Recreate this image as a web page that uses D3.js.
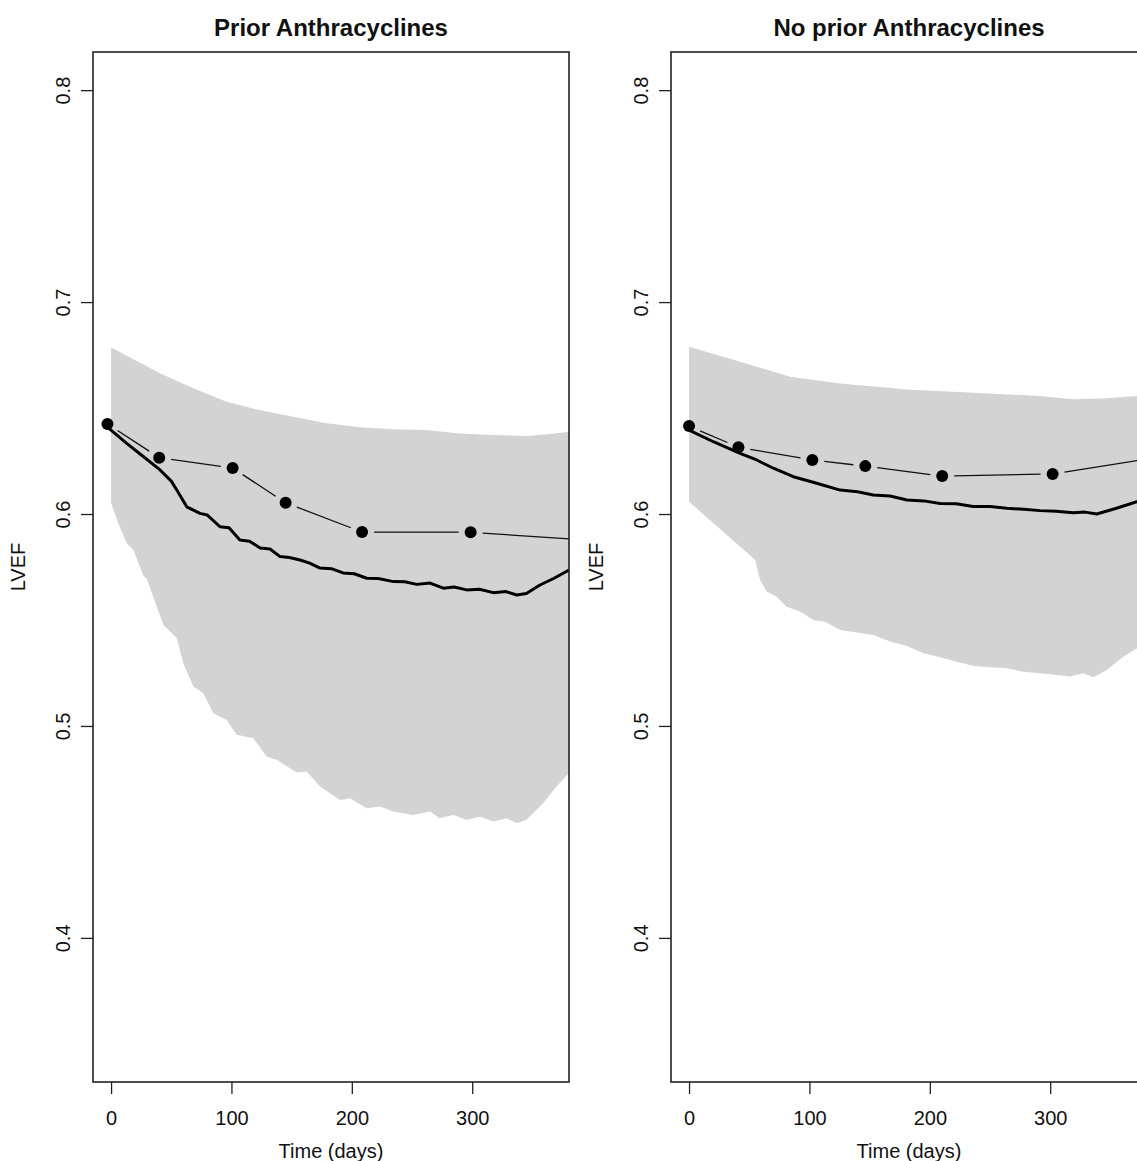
<!DOCTYPE html>
<html>
<head>
<meta charset="utf-8">
<script src="https://cdn.jsdelivr.net/npm/d3@7"></script>
<style>
  body { margin: 0; background: #fff; }
  text { font-family: "Liberation Sans", Arial, Helvetica, sans-serif; fill: #111; }
</style>
</head>
<body>
<svg id="chart" width="1137" height="1161"></svg>
<script>
// ---------- data ----------
const xTicks = [0, 100, 200, 300];
const yTicks = [0.4, 0.5, 0.6, 0.7, 0.8];
const panelTitles = ["Prior Anthracyclines", "No prior Anthracyclines"];

// Prior anthracyclines
const priorObsDay  = [-3, 40, 101, 145, 208.5, 298.7, 420];
const priorObsLVEF = [0.6425, 0.6266, 0.6217, 0.6053, 0.5915, 0.5914, 0.5867];
const priorMeanDay  = [-3, 13, 27, 40.7, 50, 54.6, 62.9, 73.9, 80, 90.5, 98, 107, 115, 123.8, 132, 140.4, 148, 157, 165, 173.6, 183, 192.7, 202, 212.4, 222, 234.5, 244, 253.9, 265, 276, 285, 295.4, 306, 317.5, 328, 337, 345, 356.3, 368, 380.4];
const priorMeanLVEF = [0.641, 0.6333, 0.627, 0.6208, 0.6155, 0.6113, 0.6034, 0.6003, 0.5995, 0.594, 0.5935, 0.5877, 0.5872, 0.584, 0.5835, 0.5799, 0.5795, 0.5783, 0.5768, 0.5745, 0.5742, 0.5722, 0.5718, 0.5697, 0.5696, 0.5681, 0.568, 0.5668, 0.5674, 0.565, 0.5656, 0.5642, 0.5645, 0.5629, 0.5634, 0.5618, 0.5625, 0.5665, 0.5697, 0.5736];
const priorUpDay  = [0, 40.7, 68.4, 96, 123.8, 151.4, 179, 206.8, 234.5, 262, 290, 317.5, 345, 364.6, 380.4];
const priorUpLVEF = [0.6786, 0.6664, 0.6593, 0.653, 0.649, 0.6459, 0.6428, 0.6409, 0.640, 0.6396, 0.638, 0.6373, 0.6368, 0.6377, 0.6388];
const priorLoDay  = [0, 6, 13, 18.5, 26.8, 30, 38, 43.5, 54.6, 60, 68.4, 76.7, 85, 96, 104.4, 118.2, 129.3, 137.6, 154.2, 162.5, 173.6, 190.2, 198.5, 212.4, 223.4, 234.5, 251, 265, 273, 284.3, 295.4, 306.5, 317.5, 328.7, 337, 345, 359, 370, 380.4];
const priorLoLVEF = [0.6052, 0.5956, 0.5862, 0.583, 0.571, 0.569, 0.5563, 0.5476, 0.5414, 0.5296, 0.5186, 0.5154, 0.506, 0.5028, 0.4958, 0.4942, 0.4855, 0.484, 0.478, 0.4785, 0.4714, 0.4651, 0.4659, 0.4612, 0.462, 0.4596, 0.458, 0.4596, 0.4565, 0.458, 0.4557, 0.4572, 0.4549, 0.4565, 0.4541, 0.4557, 0.4635, 0.4714, 0.4777];

// No prior anthracyclines
const noPriorObsDay  = [0, 41, 102.4, 146.4, 210.3, 302, 400];
const noPriorObsLVEF = [0.6415, 0.6315, 0.6255, 0.6226, 0.6179, 0.6189, 0.6277];
const noPriorMeanDay  = [0, 20.2, 42.4, 56.2, 70, 86.6, 106, 125.5, 140, 153, 167, 181, 195, 208.6, 222, 236, 250, 263.9, 278, 291.5, 305, 319, 329, 338.6, 355, 372, 380.4];
const noPriorMeanLVEF = [0.6396, 0.6341, 0.6286, 0.6255, 0.6216, 0.6176, 0.6145, 0.6113, 0.6105, 0.609, 0.6085, 0.6066, 0.6062, 0.605, 0.6048, 0.6035, 0.6036, 0.6027, 0.6022, 0.6016, 0.6013, 0.6006, 0.6009, 0.6, 0.6027, 0.6058, 0.607];
const noPriorUpDay  = [0, 42.4, 83.9, 125.5, 181, 236.4, 291.5, 319, 346.9, 372, 380.4];
const noPriorUpLVEF = [0.6789, 0.6718, 0.6648, 0.6616, 0.6588, 0.6572, 0.6557, 0.6541, 0.6546, 0.6557, 0.656];
const noPriorLoDay  = [0, 55, 59, 64.5, 72.8, 81, 92.2, 103.3, 113, 125.5, 153, 167, 181, 194.6, 208.6, 222.5, 236.4, 250, 264, 277.7, 291.5, 305.4, 316.4, 327.5, 335.8, 347, 360.7, 372, 380.4];
const noPriorLoLVEF = [0.6058, 0.5783, 0.5689, 0.5634, 0.561, 0.5563, 0.554, 0.55, 0.5492, 0.5453, 0.5429, 0.5398, 0.5377, 0.5343, 0.5324, 0.5303, 0.5283, 0.5277, 0.5272, 0.5256, 0.5249, 0.524, 0.5233, 0.5249, 0.523, 0.5264, 0.5327, 0.5366, 0.540];

// ---------- layout ----------
const svg = d3.select("#chart");
const panelW = 476, plotTop = 52, plotBottom = 1082;
const panelLefts = [93, 671];
const xDomain = [-15, 380.4];
const yDomain = [0.332, 0.818];

const panels = [
  { title: panelTitles[0], obsD: priorObsDay, obsV: priorObsLVEF, meanD: priorMeanDay, meanV: priorMeanLVEF,
    upD: priorUpDay, upV: priorUpLVEF, loD: priorLoDay, loV: priorLoLVEF },
  { title: panelTitles[1], obsD: noPriorObsDay, obsV: noPriorObsLVEF, meanD: noPriorMeanDay, meanV: noPriorMeanLVEF,
    upD: noPriorUpDay, upV: noPriorUpLVEF, loD: noPriorLoDay, loV: noPriorLoLVEF }
];

panels.forEach((p, i) => {
  const left = panelLefts[i];
  const x = d3.scaleLinear().domain(xDomain).range([left, left + panelW]);
  const y = d3.scaleLinear().domain(yDomain).range([plotBottom, plotTop]);
  const g = svg.append("g");

  const clipId = "clip" + i;
  svg.append("defs").append("clipPath").attr("id", clipId)
    .append("rect").attr("x", left).attr("y", plotTop).attr("width", panelW).attr("height", plotBottom - plotTop);
  const plot = g.append("g").attr("clip-path", `url(#${clipId})`);

  // band
  const bandPts = p.upD.map((d, k) => [x(d), y(p.upV[k])])
    .concat(p.loD.map((d, k) => [x(d), y(p.loV[k])]).reverse());
  plot.append("path")
    .attr("d", "M" + bandPts.map(q => q.join(",")).join("L") + "Z")
    .attr("fill", "#d3d3d3").attr("stroke", "none");

  // mean curve
  const meanLine = d3.line().x(d => x(d[0])).y(d => y(d[1]));
  plot.append("path")
    .datum(p.meanD.map((d, k) => [d, p.meanV[k]]))
    .attr("d", meanLine)
    .attr("fill", "none").attr("stroke", "#000").attr("stroke-width", 3)
    .attr("stroke-linejoin", "round");

  // observed: type "b" (points + gapped segments)
  const obs = p.obsD.map((d, k) => [x(d), y(p.obsV[k])]);
  const gap = 12;
  for (let k = 0; k < obs.length - 1; k++) {
    const [x1, y1] = obs[k], [x2, y2] = obs[k + 1];
    const L = Math.hypot(x2 - x1, y2 - y1);
    if (L <= 2 * gap) continue;
    const ux = (x2 - x1) / L, uy = (y2 - y1) / L;
    plot.append("line")
      .attr("x1", x1 + ux * gap).attr("y1", y1 + uy * gap)
      .attr("x2", x2 - ux * gap).attr("y2", y2 - uy * gap)
      .attr("stroke", "#111").attr("stroke-width", 1.3);
  }
  plot.selectAll("circle.obs").data(obs).enter().append("circle")
    .attr("class", "obs").attr("cx", d => d[0]).attr("cy", d => d[1]).attr("r", 6)
    .attr("fill", "#000");

  // box
  g.append("rect").attr("x", left).attr("y", plotTop).attr("width", panelW).attr("height", plotBottom - plotTop)
    .attr("fill", "none").attr("stroke", "#222").attr("stroke-width", 1.6);

  // x axis
  const xa = g.append("g").attr("transform", `translate(0,${plotBottom})`)
    .call(d3.axisBottom(x).tickValues(xTicks).tickSize(12).tickPadding(17).tickFormat(d3.format("d")));
  xa.select(".domain").remove();
  xa.selectAll("line").attr("stroke", "#222").attr("stroke-width", 1.3);
  xa.selectAll("text").attr("font-size", 20).attr("fill", "#111");

  // y axis
  const ya = g.append("g").attr("transform", `translate(${left},0)`)
    .call(d3.axisLeft(y).tickValues(yTicks).tickSize(12).tickFormat(d3.format(".1f")));
  ya.select(".domain").remove();
  ya.selectAll("line").attr("stroke", "#222").attr("stroke-width", 1.3);
  ya.selectAll("text")
    .attr("x", null).attr("dy", null)
    .attr("text-anchor", "middle").attr("dominant-baseline", "central")
    .attr("transform", "translate(-30,0) rotate(-90)")
    .attr("font-size", 20).attr("fill", "#111");

  // labels
  g.append("text").attr("x", left + panelW / 2).attr("y", 36)
    .attr("text-anchor", "middle").attr("font-size", 24).attr("font-weight", "bold").text(p.title);
  g.append("text").attr("x", left + panelW / 2).attr("y", 1158)
    .attr("text-anchor", "middle").attr("font-size", 20).text("Time (days)");
  g.append("text")
    .attr("transform", `translate(${left - 75},${(plotTop + plotBottom) / 2}) rotate(-90)`)
    .attr("text-anchor", "middle").attr("dominant-baseline", "central")
    .attr("font-size", 20).text("LVEF");
});
</script>
</body>
</html>
